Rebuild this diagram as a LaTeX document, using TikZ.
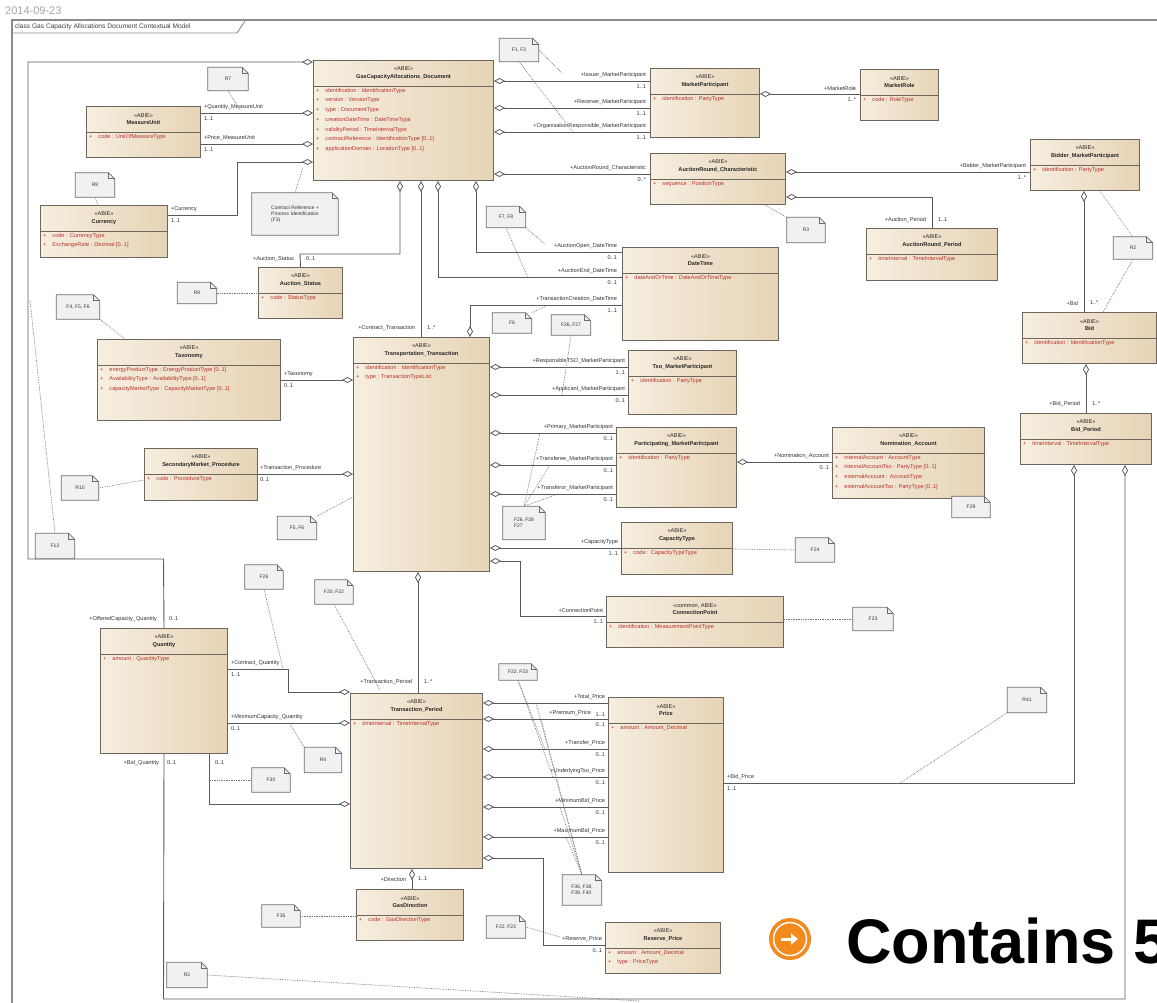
\documentclass[tikz,border=0pt]{standalone}
\usepackage{fontspec}
\setmainfont{Liberation Sans}
\usetikzlibrary{arrows.meta}
\definecolor{clsA}{HTML}{F6EEDF}
\definecolor{clsB}{HTML}{E6D4B6}
\definecolor{clsborder}{HTML}{6E665C}
\definecolor{attrred}{HTML}{B8322E}
\definecolor{linec}{HTML}{5A5A5A}
\definecolor{notefill}{HTML}{F1F1F3}
\definecolor{noteline}{HTML}{6A6A6A}
\definecolor{framec}{HTML}{8C8C8C}
\definecolor{orangec}{HTML}{F28A1E}
\tikzset{
 clsbox/.style={draw=clsborder, line width=1pt, left color=clsA, right color=clsB, inner sep=0pt},
 clsline/.style={draw=clsborder, line width=0.8pt},
 clstitle/.style={font=\fontsize{5.6}{7.5}\selectfont, align=center, inner sep=0pt, text=black!85},
 clsattr/.style={font=\fontsize{5.6}{9.7}\selectfont, align=left, inner sep=0pt, text=attrred},
 lbltext/.style={font=\fontsize{5.6}{6.5}\selectfont, inner sep=0.8pt, text=black!80},
 assoc/.style={draw=linec, line width=0.9pt},
 agg/.style={assoc, -{Diamond[open, length=11pt, width=6pt, line width=0.8pt]}},
 notebox/.style={fill=notefill, draw=none, inner sep=2pt, font=\fontsize{5}{6}\selectfont, align=left, text=black!80},
 noteln/.style={draw=noteline, line width=0.8pt},
 notelink/.style={draw=black!55, line width=0.7pt, densely dotted},
}
\newcommand\attr[1]{+\hspace{6pt}#1}
\newcommand\umlclass[7][ABIE]{%
 \node[clsbox, minimum width=#4, minimum height=#5, anchor=north west] (#2) at (#3) {};
 \draw[clsline] ([yshift=-26pt]#2.north west) -- ([yshift=-26pt]#2.north east);
 \node[clstitle] (#2-t) at ([yshift=-13pt]#2.north) {«#1»\\\textbf{#6}};
 \node[clsattr, anchor=north west] (#2-a) at ([xshift=3pt,yshift=-28pt]#2.north west) {#7};
}
\newcommand\umlnote[5]{%
 \node[notebox, minimum width=#3, minimum height=#4] (#1) at (#2) {#5};
 \fill[white] ([xshift=-6pt]#1.north east) -- (#1.north east) -- ([yshift=-6pt]#1.north east) -- cycle;
 \draw[noteln] (#1.north west) -- ([xshift=-6pt]#1.north east) -- ([yshift=-6pt]#1.north east) -- (#1.south east) -- (#1.south west) -- cycle;
 \draw[noteln] ([xshift=-6pt]#1.north east) |- ([yshift=-6pt]#1.north east);
}
\newcommand\lbl[4]{\node[lbltext, anchor=#2] (#1) at (#3) {#4};}
\begin{document}
\begin{tikzpicture}[x=1pt,y=-1pt]
\useasboundingbox (0,0) rectangle (1157,1002);
\fill[white] (0,0) rectangle (1157,1002);
% date and frame
\node[anchor=west, font=\fontsize{11}{12}\selectfont, text=black!35, inner sep=0] (date) at (5,11) {2014-09-23};
\draw[framec, line width=1.2pt] (12,1010) -- (12,20) -- (1165,20);
\draw[framec, line width=0.9pt] (12,33) -- (237,33) -- (245,21);
\node[anchor=west, font=\fontsize{6.6}{7}\selectfont, inner sep=0, text=black!75] (frametitle) at (15,27) {class Gas Capacity Allocations Document Contextual Model};

% classes
\umlclass{GCAD}{313,60}{180}{120}{GasCapacityAllocations\_Document}{\attr{identification : IdentificationType}\\\attr{version : VersionType}\\\attr{type : DocumentType}\\\attr{creationDateTime : DateTimeType}\\\attr{validityPeriod : TimeIntervalType}\\\attr{contractReference : IdentificationType [0..1]}\\\attr{applicationDomain : LocationType [0..1]}}
\umlclass{MU}{86,106}{114}{51}{MeasureUnit}{\attr{code : UnitOfMeasureType}}
\umlclass{Cur}{40,205}{127}{52}{Currency}{\attr{code : CurrencyType}\\\attr{ExchangeRate : Decimal [0..1]}}
\umlclass{AS}{258,267}{84}{51}{Auction\_Status}{\attr{code : StatusType}}
\umlclass{Tax}{97,339}{183}{81}{Taxonomy}{\attr{energyProductType : EnergyProductType [0..1]}\\\attr{AvailabilityType : AvailabilityType [0..1]}\\\attr{capacityMarketType : CapacityMarketType [0..1]}}
\umlclass{SMP}{144,448}{113}{52}{SecondaryMarket\_Procedure}{\attr{code : ProcedureType}}
\umlclass{Qty}{100,628}{127}{125}{Quantity}{\attr{amount : QuantityType}}
\umlclass{TT}{353,337}{136}{234}{Transportation\_Transaction}{\attr{identification : IdentificationType}\\\attr{type : TransactionTypeList}}
\umlclass{MP}{650,68}{109}{69}{MarketParticipant}{\attr{identification : PartyType}}
\umlclass{MR}{860,69}{78}{51}{MarketRole}{\attr{code : RoleType}}
\umlclass{ARC}{650,153}{135}{51}{AuctionRound\_Characteristic}{\attr{sequence : PositionType}}
\umlclass{BMP}{1030,139}{109}{51}{Bidder\_MarketParticipant}{\attr{identification : PartyType}}
\umlclass{ARP}{866,228}{131}{52}{AuctionRound\_Period}{\attr{timeInterval : TimeIntervalType}}
\umlclass{DT}{622,247}{156}{93}{DateTime}{\attr{dateAndOrTime : DateAndOrTimeType}}
\umlclass{Bid}{1022,312}{134}{51}{Bid}{\attr{identification : IdentificationType}}
\umlclass{BP}{1020,413}{131}{51}{Bid\_Period}{\attr{timeInterval : TimeIntervalType}}
\umlclass{TSO}{628,350}{108}{64}{Tso\_MarketParticipant}{\attr{identification : PartyType}}
\umlclass{PMP}{616,427}{120}{80}{Participating\_MarketParticipant}{\attr{identification : PartyType}}
\umlclass{NA}{832,427}{152}{71}{Nomination\_Account}{\attr{internalAccount : AccountType}\\\attr{internalAccountTso : PartyType [0..1]}\\\attr{externalAccount : AccountType}\\\attr{externalAccountTso : PartyType [0..1]}}
\umlclass{CT}{621,522}{111}{52}{CapacityType}{\attr{code : CapacityTypeType}}
\umlclass[common, ABIE]{CP}{606,596}{177}{51}{ConnectionPoint}{\attr{identification : MeasurementPointType}}
\umlclass{TP}{350,693}{132}{175}{Transaction\_Period}{\attr{timeInterval : TimeIntervalType}}
\umlclass{Price}{608,697}{115}{175}{Price}{\attr{amount : Amount\_Decimal}}
\umlclass{GD}{356,889}{107}{51}{GasDirection}{\attr{code : GasDirectionType}}
\umlclass{RP}{605,922}{115}{51}{Reserve\_Price}{\attr{amount : Amount\_Decimal}\\\attr{type : PriceType}}

% associations
\draw[agg] (Qty.north) -- (163.5,559) -- (28,559) -- (28,62) -- (GCAD.west |- 0,62);
\draw[agg] (MU.east |- 0,113) -- (GCAD.west |- 0,113);
\draw[agg] (MU.east |- 0,144) -- (GCAD.west |- 0,144);
\draw[agg] (Cur.east |- 0,215) -- (237,215) -- (237,162) -- (GCAD.west |- 0,162);
\draw[agg] (AS.north) -- (300,254) -- (400,254) -- (GCAD.south -| 400,0);
\draw[agg] (TT.north -| 421,0) -- (GCAD.south -| 421,0);
\draw[agg] (DT.west |- 0,277) -- (438,277) -- (GCAD.south -| 438,0);
\draw[agg] (DT.west |- 0,252) -- (476,252) -- (GCAD.south -| 476,0);
\draw[agg] (DT.west |- 0,305) -- (470,305) -- (TT.north -| 470,0);
\foreach \yy in {81,108,132} \draw[agg] (MP.west |- 0,\yy) -- (GCAD.east |- 0,\yy);
\draw[agg] (ARC.west |- 0,174) -- (GCAD.east |- 0,174);
\draw[agg] (MR.west |- 0,94) -- (MP.east |- 0,94);
\draw[agg] (BMP.west |- 0,172) -- (ARC.east |- 0,172);
\draw[agg] (ARP.north -| 932,0) -- (932,197) -- (ARC.east |- 0,197);
\draw[agg] (Bid.north -| 1084,0) -- (BMP.south -| 1084,0);
\draw[agg] (BP.north -| 1086,0) -- (Bid.south -| 1086,0);
\draw[agg] (Price.east |- 0,783) -- (1074,783) -- (BP.south -| 1074,0);
\draw[agg] (Qty.south) -- (163.5,999) -- (1125,999) -- (BP.south -| 1125,0);
\draw[agg] (Qty.south -| 209,0) -- (209,804) -- (TP.west |- 0,804);
\draw[agg] (Qty.east |- 0,669) -- (288,669) -- (288,692) -- (TP.west |- 0,692);
\draw[agg] (Qty.east |- 0,723) -- (TP.west |- 0,723);
\draw[agg] (Tax.east |- 0,380) -- (TT.west |- 0,380);
\draw[agg] (SMP.east |- 0,474) -- (TT.west |- 0,474);
\foreach \yy in {367,395} \draw[agg] (TSO.west |- 0,\yy) -- (TT.east |- 0,\yy);
\foreach \yy in {433,465,494} \draw[agg] (PMP.west |- 0,\yy) -- (TT.east |- 0,\yy);
\draw[agg] (CT.west |- 0,548) -- (TT.east |- 0,548);
\draw[agg] (CP.west |- 0,616) -- (520,616) -- (520,561) -- (TT.east |- 0,561);
\draw[agg] (NA.west |- 0,462) -- (PMP.east |- 0,462);
\draw[agg] (TP.north -| 418,0) -- (TT.south -| 418,0);
\draw[agg] (GD.north -| 412,0) -- (TP.south -| 412,0);
\foreach \yy in {703,719,749,777,807,837} \draw[agg] (Price.west |- 0,\yy) -- (TP.east |- 0,\yy);
\draw[agg] (RP.west |- 0,945) -- (543,945) -- (543,858) -- (TP.east |- 0,858);

% role labels
\lbl{lOC}{east}{158,619}{+OfferedCapacity\_Quantity}\lbl{mOC}{west}{168,619}{0..1}
\lbl{lQMU}{south west}{203,111}{+Quantity\_MeasureUnit}\lbl{mQMU}{north west}{203,116}{1..1}
\lbl{lPMU}{south west}{203,142}{+Price\_MeasureUnit}\lbl{mPMU}{north west}{203,147}{1..1}
\lbl{lCur}{south west}{170,213}{+Currency}\lbl{mCur}{north west}{170,218}{1..1}
\lbl{lAS}{east}{295,259}{+Auction\_Status}\lbl{mAS}{west}{305,259}{0..1}
\lbl{lCT}{east}{416,328}{+Contract\_Transaction}\lbl{mCT}{west}{426,328}{1..*}
\lbl{lAO}{south east}{618,250}{+AuctionOpen\_DateTime}\lbl{mAO}{north east}{618,255}{0..1}
\lbl{lAE}{south east}{618,275}{+AuctionEnd\_DateTime}\lbl{mAE}{north east}{618,280}{0..1}
\lbl{lTC}{south east}{618,303}{+TransactionCreation\_DateTime}\lbl{mTC}{north east}{618,308}{1..1}
\lbl{lIss}{south east}{647,79}{+Issuer\_MarketParticipant}\lbl{mIss}{north east}{647,84}{1..1}
\lbl{lRec}{south east}{647,106}{+Receiver\_MarketParticipant}\lbl{mRec}{north east}{647,111}{1..1}
\lbl{lOrg}{south east}{647,130}{+OrganisationResponsible\_MarketParticipant}\lbl{mOrg}{north east}{647,135}{1..1}
\lbl{lARC}{south east}{647,172}{+AuctionRound\_Characteristic}\lbl{mARC}{north east}{647,177}{0..*}
\lbl{lMR}{south east}{857,92}{+MarketRole}\lbl{mMR}{north east}{857,97}{1..*}
\lbl{lBid}{south east}{1027,170}{+Bidder\_MarketParticipant}\lbl{mBid}{north east}{1027,175}{1..*}
\lbl{lAP}{east}{927,220}{+Auction\_Period}\lbl{mAP}{west}{937,220}{1..1}
\lbl{lB}{east}{1079,303}{+Bid}\lbl{mB}{west}{1089,303}{1..*}
\lbl{lBP}{east}{1081,404}{+Bid\_Period}\lbl{mBP}{west}{1091,404}{1..*}
\lbl{lBPr}{south west}{726,781}{+Bid\_Price}\lbl{mBPr}{north west}{726,786}{1..1}
\lbl{lBQ}{east}{160,763}{+Bid\_Quantity}\lbl{mBQ}{west}{166,763}{0..1}\lbl{mQ3}{west}{214,763}{0..1}
\lbl{lCQ}{south west}{230,667}{+Contract\_Quantity}\lbl{mCQ}{north west}{230,672}{1..1}
\lbl{lMC}{south west}{230,721}{+MinimumCapacity\_Quantity}\lbl{mMC}{north west}{230,726}{0..1}
\lbl{lTax}{south west}{283,378}{+Taxonomy}\lbl{mTax}{north west}{283,383}{0..1}
\lbl{lTPr}{south west}{259,472}{+Transaction\_Procedure}\lbl{mTPr}{north west}{259,477}{0..1}
\lbl{lRT}{south east}{626,365}{+ResponsibleTSO\_MarketParticipant}\lbl{mRT}{north east}{626,370}{1..1}
\lbl{lApp}{south east}{626,393}{+Applicant\_MarketParticipant}\lbl{mApp}{north east}{626,398}{0..1}
\lbl{lPri}{south east}{614,431}{+Primary\_MarketParticipant}\lbl{mPri}{north east}{614,436}{0..1}
\lbl{lTee}{south east}{614,463}{+Transferee\_MarketParticipant}\lbl{mTee}{north east}{614,468}{0..1}
\lbl{lTor}{south east}{614,492}{+Transferor\_MarketParticipant}\lbl{mTor}{north east}{614,497}{0..1}
\lbl{lCaT}{south east}{619,546}{+CapacityType}\lbl{mCaT}{north east}{619,551}{1..1}
\lbl{lCP}{south east}{604,614}{+ConnectionPoint}\lbl{mCP}{north east}{604,619}{1..1}
\lbl{lNA}{south east}{830,460}{+Nomination\_Account}\lbl{mNA}{north east}{830,465}{0..1}
\lbl{lTP}{east}{413,682}{+Transaction\_Period}\lbl{mTP}{west}{423,682}{1..*}
\lbl{lDir}{east}{407,879}{+Direction}\lbl{mDir}{west}{417,879}{1..1}
\lbl{lTot}{south east}{606,701}{+Total\_Price}
\lbl{lPrem}{south east}{592,717}{+Premium\_Price}\lbl{mTot}{south east}{606,717}{1..1}\lbl{mPrem}{north east}{606,722}{0..1}
\lbl{lTra}{south east}{606,747}{+Transfer\_Price}\lbl{mTra}{north east}{606,752}{0..1}
\lbl{lUnd}{south east}{606,775}{+UnderlyingTso\_Price}\lbl{mUnd}{north east}{606,780}{0..1}
\lbl{lMin}{south east}{606,805}{+MinimumBid\_Price}\lbl{mMin}{north east}{606,810}{0..1}
\lbl{lMax}{south east}{606,835}{+MaximumBid\_Price}\lbl{mMax}{north east}{606,840}{0..1}
\lbl{lRes}{south east}{603,943}{+Reserve\_Price}\lbl{mRes}{north east}{603,948}{0..1}

% notes
\umlnote{nR7}{228,79}{40}{23}{R7}
\umlnote{nF3}{295,214}{86}{42}{Contract Reference +\\Process Identification\\(F3)}
\umlnote{nR8}{95,185}{39}{24}{R8}
\umlnote{nR9}{197,293}{39}{21}{R9}
\umlnote{nF456}{78,307}{43}{24}{F4, F5, F6}
\umlnote{nR10}{80,488}{37}{24}{R10}
\umlnote{nF56}{297,528}{39}{23}{F5, F6}
\umlnote{nF12}{55,546}{39}{25}{F12}
\umlnote{nF26}{264,577}{38}{24}{F26}
\umlnote{nF2022}{334,592}{38}{24}{F20, F22}
\umlnote{nR4}{323,760}{37}{25}{R4}
\umlnote{nF30}{271,780}{38}{24}{F30}
\umlnote{nF35}{281,916}{38}{22}{F35}
\umlnote{nR2b}{187,975}{40}{25}{R2}
\umlnote{nF12a}{519,50}{39}{23}{F1, F2}
\umlnote{nF78}{506,217}{39}{21}{F7, F8}
\umlnote{nF6}{512,323}{39}{20}{F6}
\umlnote{nF2827}{571,325}{39}{20}{F26, F27}
\umlnote{nR3}{806,230}{38}{25}{R3}
\umlnote{nR2}{1133,248}{39}{22}{R2}
\umlnote{nF262827}{524,523}{42}{33}{F26, F28\\F27}
\umlnote{nF24}{815,550}{39}{24}{F24}
\umlnote{nF23}{873,619}{40}{23}{F23}
\umlnote{nF29}{971,507}{38}{21}{F29}
\umlnote{nF2223}{518,672}{38}{16}{F22, F23}
\umlnote{nF36}{582,890}{39}{30}{F36, F38,\\F39, F40}
\umlnote{nF2223b}{506,927}{39}{22}{F22, F23}
\umlnote{nR41}{1027,700}{39}{25}{R41}

% note links
\draw[notelink] (nR7.south) -- (240,110);
\draw[notelink] (nF3.north) -- (303,167);
\draw[notelink] (nR8.south) -- (Cur.north -| 98,0);
\draw[notelink] (nR9.east) -- (AS.west |- 0,293);
\draw[notelink] (nF456.south east) -- (Tax.north -| 125,0);
\draw[notelink] (nR10.east) -- (SMP.west |- 0,480);
\draw[notelink] (nF56.north east) -- (TT.west |- 0,497);
\draw[notelink] (nF12.north) -- (30,300);
\draw[notelink] (nF26.south) -- (283,669);
\draw[notelink] (nF2022.south) -- (380,690);
\draw[notelink] (nR4.north west) -- (290,724);
\draw[notelink] (nF30.west) -- (209,780);
\draw[notelink] (nF35.east) -- (GD.west |- 0,916);
\draw[notelink] (nR2b.east) -- (640,1001);
\draw[notelink] (nF12a.east) -- (562,73);
\draw[notelink] (nF12a.south) -- (573,132);
\draw[notelink] (nF78.south) -- (528,278);
\draw[notelink] (nF78.south east) -- (545,244);
\draw[notelink] (nF6.north east) -- (548,305);
\draw[notelink] (nF2827.south) -- (562,395);
\draw[notelink] (nR3.north west) -- (ARC.south -| 765,0);
\draw[notelink] (nR2.north) -- (BMP.south -| 1100,0);
\draw[notelink] (nR2.south) -- (Bid.north -| 1103,0);
\draw[notelink] (nF262827.north) -- (540,433);
\draw[notelink] (nF262827.north) -- (550,465);
\draw[notelink] (nF262827.north) -- (558,494);
\draw[notelink] (nF24.west) -- (CT.east |- 0,549);
\draw[notelink] (nF23.west) -- (CP.east |- 0,619);
\draw[notelink] (nF2223.south) -- (545,749);
\draw[notelink] (nF2223.south) -- (553,777);
\draw[notelink] (nF36.north) -- (536,703);
\draw[notelink] (nF36.north) -- (541,719);
\draw[notelink] (nF36.north) -- (560,807);
\draw[notelink] (nF36.north) -- (566,837);
\draw[notelink] (nF2223b.east) -- (560,937);
\draw[notelink] (nR41.south west) -- (900,783);

% slide overlay
\node[circle, fill=orangec, minimum size=42pt, inner sep=0pt] (icon) at (790,939) {};
\draw[white, line width=1.5pt] (icon.center) circle (16.5pt);
\draw[white, line width=3pt, -{Triangle[length=7pt,width=11pt]}] ([xshift=-9pt]icon.center) -- ([xshift=8pt]icon.center);
\node[anchor=base west, font=\fontsize{63}{70}\selectfont\bfseries, inner sep=0pt] (contains) at (846,963) {Contains 5};
\end{tikzpicture}
\end{document}
